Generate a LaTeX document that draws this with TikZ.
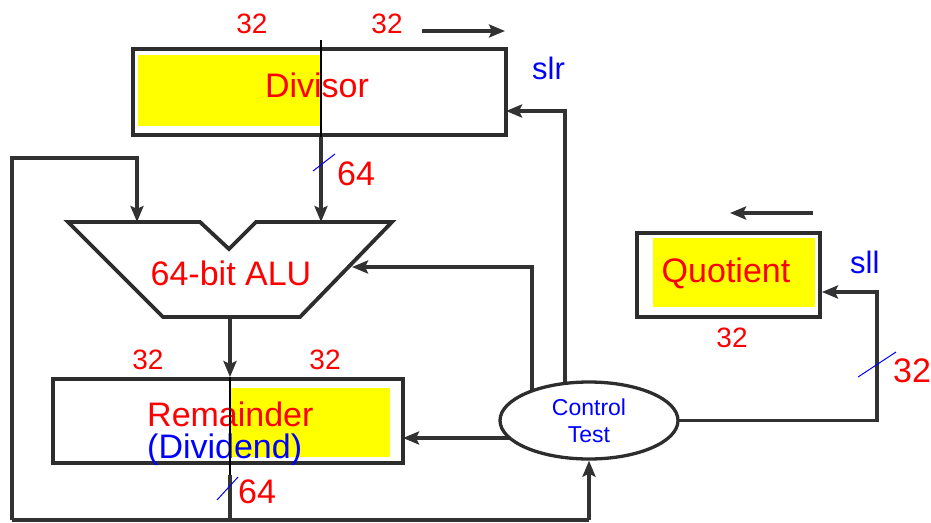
\documentclass[tikz,border=0pt]{standalone}
\usepackage{fontspec}
\setmainfont{Liberation Sans}
\usetikzlibrary{arrows.meta,shapes.geometric,backgrounds}
\definecolor{lred}{RGB}{255,0,0}
\definecolor{lblue}{RGB}{0,0,255}
\definecolor{lyel}{RGB}{255,255,0}
\definecolor{lgray}{RGB}{50,50,50}
\definecolor{bgray}{RGB}{45,45,45}
\begin{document}
\begin{tikzpicture}[x=1pt,y=-1pt,
  boxst/.style={draw=bgray, line width=3.8pt, inner sep=0pt, rectangle},
  conn/.style={draw=lgray, line width=3.3pt, -{Stealth[length=16pt,width=13pt,inset=3pt]}},
  plainline/.style={draw=lgray, line width=3.3pt},
  thinblack/.style={draw=black, line width=1.5pt},
  slashline/.style={draw=lblue, line width=1pt},
  lbl/.style={inner sep=0pt, anchor=base},
  bigred/.style={lbl, text=lred, font=\fontsize{34}{36}\selectfont},
  midred/.style={lbl, text=lred, font=\fontsize{28}{30}\selectfont},
  bigblue/.style={lbl, text=lblue, font=\fontsize{34}{36}\selectfont},
  shiftlbl/.style={lbl, text=lblue, font=\fontsize{31}{33}\selectfont},
  yel/.style={fill=lyel, draw=none}
]
\useasboundingbox (0,0) rectangle (931,522);

% key coordinates
\coordinate (aluinL) at (137,222);
\coordinate (aluinR) at (321,222);
\coordinate (aluside) at (352,267);
\coordinate (aluout) at (230,317);
\coordinate (loopTL) at (12,158);
\coordinate (loopBL) at (12,520);
\coordinate (remline) at (230,475);
\coordinate (ctlA) at (532,420);
\coordinate (ctlB) at (565,420);
\coordinate (divin) at (506,111);
\coordinate (remin) at (403,438);
\coordinate (qcorner) at (877,292);
\coordinate (dsa) at (422,31);
\coordinate (dsb) at (505,31);
\coordinate (qsa) at (813,213);
\coordinate (qsb) at (730,213);

% boxes
\node[boxst, minimum width=373pt, minimum height=86pt] (divisor) at (319.5,92) {};
\node[boxst, minimum width=183pt, minimum height=84pt] (quotient) at (728.5,275) {};
\node[boxst, minimum width=350pt, minimum height=84pt] (remainder) at (228,421) {};
\node[ellipse, draw=bgray, fill=white, line width=3.3pt, minimum width=178pt, minimum height=77pt,
      inner sep=0pt, align=center, text=lblue, font=\fontsize{23}{27}\selectfont] (control) at (589,420.5) {Control\\Test};

% ALU shape
\draw[draw=bgray, line width=3.8pt, line join=miter] (68,222) -- (200,222) -- (229,249) -- (256,222) -- (392,222) -- (300,317) -- (163,317) -- cycle;

\begin{scope}[on background layer]
  \fill[white] (0,0) rectangle (931,522);
  \path[yel] (138,55) rectangle (321,126);
  \path[yel] (230,388) rectangle (390,457);
  \path[yel] (653,238) rectangle (815,307);
  % connectors
  \draw[conn] (divisor.south -| aluinR) -- (aluinR);
  \draw[conn] (loopBL) -- (loopTL) -| (aluinL);
  \draw[plainline] (remline) -- (remline |- loopBL);
  \draw[plainline] (loopBL) -- (control.south |- loopBL);
  \draw[conn] (control.south |- loopBL) -- (control.south);
  \draw[conn] (aluout) -- (aluout |- remainder.north);
  \draw[conn] (ctlA) |- (aluside);
  \draw[conn] (ctlB) |- (divin);
  \draw[conn] (control.center |- remin) -- (remin);
  \draw[conn] (control.center) -| (qcorner) -- (quotient.east |- qcorner);
  \draw[conn] (dsa) -- (dsb);
  \draw[conn] (qsa) -- (qsb);
\end{scope}

% texts
\node[midred] (d32a) at (252,33) {32};
\node[midred] (d32b) at (387,33) {32};
\node[bigred] (divtext) at (317,97) {Divisor};
\node[shiftlbl, anchor=base west] (slr) at (532,79) {slr};
\node[bigred, anchor=base west] (d64) at (337,185) {64};
\node[bigred] (alutext) at (231,285) {64-bit ALU};
\node[bigred] (quottext) at (726,282) {Quotient};
\node[shiftlbl, anchor=base west] (sll) at (850,273) {sll};
\node[midred] (q32) at (732,347) {32};
\node[bigred, anchor=base west] (q32r) at (893,382) {32};
\node[midred] (r32a) at (148,369) {32};
\node[midred] (r32b) at (325,369) {32};
\node[bigred, anchor=base west] (remtext) at (147,426) {Remainder};
\node[bigblue, anchor=base west] (divdtext) at (147,458) {(Dividend)};
\node[bigred, anchor=base west] (r64) at (238,503) {64};

% thin black lines and slashes
\draw[thinblack] (321,40) -- (divisor.south -| aluinR);
\draw[thinblack] (remline |- remainder.north) -- (remline);
\draw[slashline] (313,171) -- (335,154);
\draw[slashline] (217,500) -- (238,477);
\draw[slashline] (858,377) -- (896,352);
\end{tikzpicture}
\end{document}
